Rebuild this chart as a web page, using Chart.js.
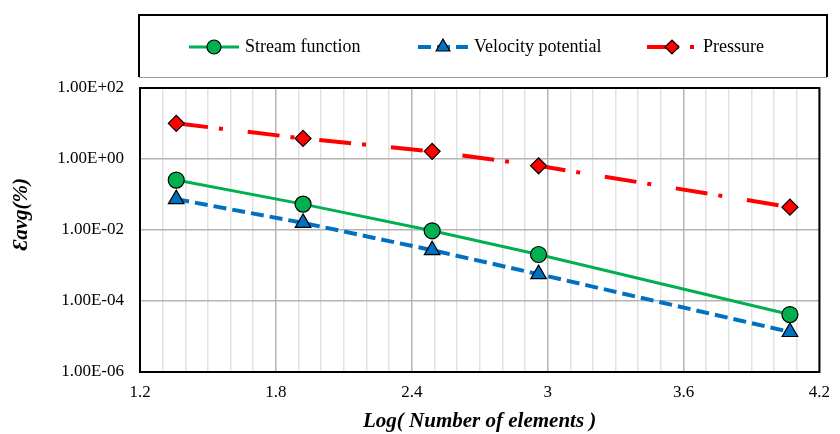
<!DOCTYPE html>
<html>
<head>
<meta charset="utf-8">
<script src="https://cdn.jsdelivr.net/npm/chart.js@4.4.0/dist/chart.umd.min.js"></script>
<style>
  body { margin: 0; background: #fff; }
  #chart { display: block; }
</style>
</head>
<body>
<canvas id="chart" width="840" height="434"></canvas>
<script>
// data
const logElements = [1.36, 1.92, 2.49, 2.96, 4.07];
const streamFunction = [0.255, 0.0536, 0.0095, 0.00204, 4.15e-5];
const velocityPotential = [0.074, 0.0159, 0.0027, 5.7e-4, 1.34e-5];
const pressure = [10.1, 3.8, 1.64, 0.644, 0.044];

const seriesNames = ["Stream function", "Velocity potential", "Pressure"];
const xTicks = [1.2, 1.8, 2.4, 3, 3.6, 4.2];
const yTicks = [1e-6, 1e-4, 1e-2, 1, 100];

const FONT = "'Liberation Serif', 'Times New Roman', serif";

function pts(ys) {
  return ys.map((y, i) => ({ x: logElements[i], y: y }));
}

// 1.00E+02 style labels
function sci(v) {
  const e = Math.round(Math.log10(v));
  const m = (v / Math.pow(10, e)).toFixed(2);
  return m + "E" + (e < 0 ? "-" : "+") + String(Math.abs(e)).padStart(2, "0");
}

function isMajor(v) {
  return xTicks.some(t => Math.abs(t - v) < 1e-6);
}

// black frame around the plot
const frame = {
  id: "frame",
  beforeDatasetsDraw(chart) {
    const a = chart.chartArea, c = chart.ctx;
    c.save();
    c.strokeStyle = "#000";
    c.lineWidth = 2;
    c.strokeRect(a.left, a.top, a.right - a.left, a.bottom - a.top);
    c.restore();
  }
};

// boxed legend on top, line sample + marker like the original
const boxLegend = {
  id: "boxLegend",
  afterDraw(chart) {
    const c = chart.ctx;
    c.save();
    // box
    c.strokeStyle = "#000";
    c.lineWidth = 2;
    c.beginPath();
    c.moveTo(139, 77); c.lineTo(139, 15); c.lineTo(827, 15); c.lineTo(827, 77);
    c.stroke();
    c.strokeStyle = "#9a9a9a";
    c.lineWidth = 1;
    c.beginPath();
    c.moveTo(139, 77.5); c.lineTo(827, 77.5);
    c.stroke();

    const starts = [189, 418, 647];
    const y = 47;
    chart.data.datasets.forEach((ds, i) => {
      const x0 = starts[i];
      c.strokeStyle = ds.borderColor;
      c.lineWidth = ds.borderWidth;
      c.setLineDash(ds.borderDash || []);
      c.beginPath();
      c.moveTo(x0, y); c.lineTo(x0 + 50, y);
      c.stroke();
      c.setLineDash([]);
      c.fillStyle = ds.pointBackgroundColor;
      c.strokeStyle = "#000";
      c.lineWidth = ds.pointBorderWidth;
      Chart.helpers.drawPoint(c, { pointStyle: ds.pointStyle, radius: ds.pointRadius - 1, borderWidth: ds.pointBorderWidth, rotation: 0 }, x0 + 25, y);
      c.fillStyle = "#000";
      c.font = "18px " + FONT;
      c.textBaseline = "middle";
      c.fillText(ds.label, x0 + 56, y);
    });
    c.restore();
  }
};

new Chart(document.getElementById("chart").getContext("2d"), {
  type: "line",
  data: {
    datasets: [
      {
        label: seriesNames[0],
        data: pts(streamFunction),
        borderColor: "#00b050",
        borderWidth: 3,
        pointStyle: "circle",
        pointRadius: 8,
        pointBackgroundColor: "#00b050",
        pointBorderColor: "#000",
        pointBorderWidth: 1.2
      },
      {
        label: seriesNames[1],
        data: pts(velocityPotential),
        borderColor: "#0070c0",
        borderWidth: 4,
        borderDash: [13, 6],
        pointStyle: "triangle",
        pointRadius: 9,
        pointBackgroundColor: "#0070c0",
        pointBorderColor: "#000",
        pointBorderWidth: 1.2
      },
      {
        label: seriesNames[2],
        data: pts(pressure),
        borderColor: "#ff0000",
        borderWidth: 4,
        borderDash: [32, 11, 4, 25],
        pointStyle: "rectRot",
        pointRadius: 8,
        pointBackgroundColor: "#ff0000",
        pointBorderColor: "#000",
        pointBorderWidth: 1.2
      }
    ]
  },
  options: {
    responsive: false,
    animation: false,
    layout: { autoPadding: false, padding: { top: 88, right: 11, bottom: 0, left: 0 } },
    plugins: {
      legend: { display: false },
      tooltip: { enabled: false }
    },
    elements: { line: { tension: 0 } },
    scales: {
      x: {
        type: "linear",
        min: 1.2,
        max: 4.2,
        afterFit: s => { s.height = 62; },
        ticks: {
          stepSize: 0.1,
          autoSkip: false,
          maxRotation: 0,
          padding: 10,
          color: "#000",
          font: { family: FONT, size: 17 },
          callback: v => isMajor(v) ? String(xTicks.find(t => Math.abs(t - v) < 1e-6)) : ""
        },
        grid: {
          drawTicks: false,
          lineWidth: 1.5,
          color: ctx => (ctx.tick && isMajor(ctx.tick.value)) ? "#b4b4b4" : "#e2e2e2"
        },
        border: { display: false },
        title: {
          display: true,
          text: "Log( Number of elements )",
          color: "#000",
          padding: 0,
          font: { family: FONT, size: 21, weight: "bold", style: "italic" }
        }
      },
      y: {
        type: "logarithmic",
        min: 1e-6,
        max: 100,
        afterFit: s => { s.width = 140; },
        afterBuildTicks: s => { s.ticks = yTicks.map(v => ({ value: v })); },
        ticks: {
          padding: 16,
          color: "#000",
          font: { family: FONT, size: 17 },
          callback: v => sci(v)
        },
        grid: { drawTicks: false, lineWidth: 1.5, color: "#b4b4b4" },
        border: { display: false },
        title: {
          display: true,
          text: "\u00a0\u00a0\u00a0\u00a0\u00a0\u00a0Ɛavg(%)",
          color: "#000",
          padding: { top: 9, bottom: 0 },
          font: { family: FONT, size: 21, weight: "bold", style: "italic" }
        }
      }
    }
  },
  plugins: [frame, boxLegend]
});
</script>
</body>
</html>
